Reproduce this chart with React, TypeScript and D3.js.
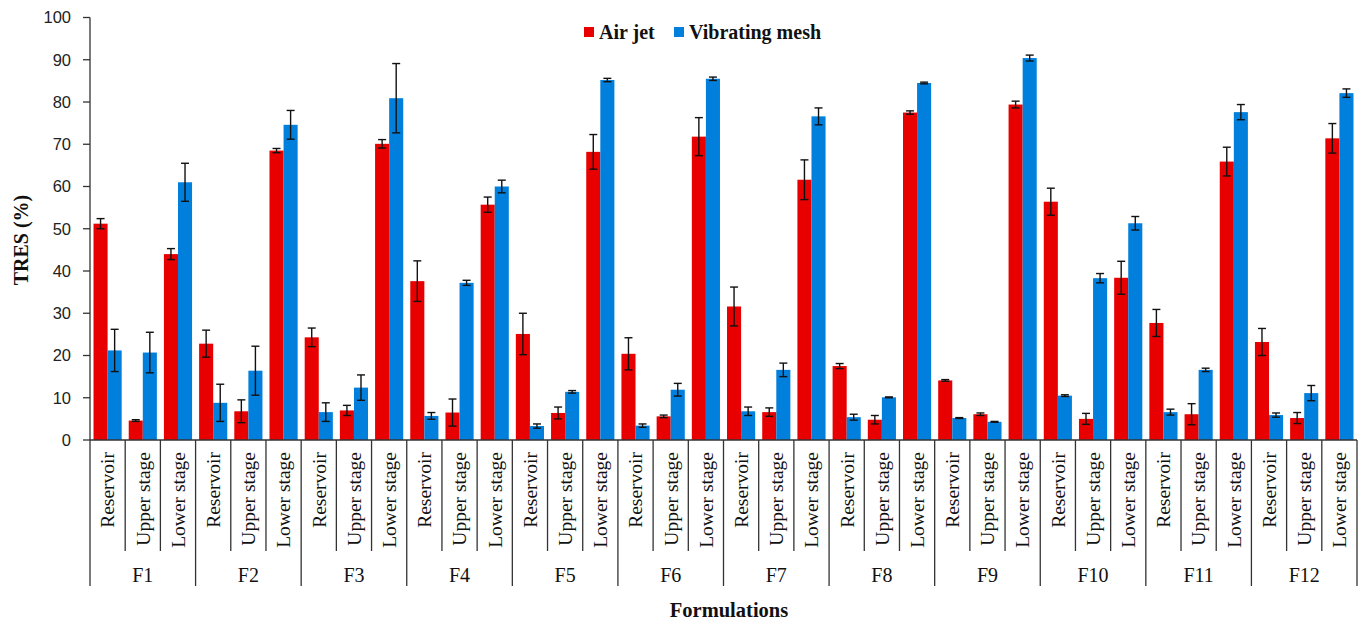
import React from 'react';
import * as d3 from 'd3';

// Formulations and stages (x-axis groups)
const formulations = ['F1', 'F2', 'F3', 'F4', 'F5', 'F6', 'F7', 'F8', 'F9', 'F10', 'F11', 'F12'];
const stages = ['Reservoir', 'Upper stage', 'Lower stage'];
const seriesNames = ['Air jet', 'Vibrating mesh'];
const yTicks = [0, 10, 20, 30, 40, 50, 60, 70, 80, 90, 100];

// TRES (%) values, ordered F1 Reservoir, F1 Upper, F1 Lower, F2 Reservoir ...
const airJet = [
  51.2, 4.6, 44.0, 22.8, 6.8, 68.5, 24.3, 7.0, 70.1, 37.6, 6.5, 55.7,
  25.1, 6.4, 68.2, 20.4, 5.6, 71.8, 31.6, 6.6, 61.6, 17.5, 4.8, 77.5,
  14.1, 6.1, 79.4, 56.4, 5.0, 38.4, 27.7, 6.1, 65.9, 23.2, 5.2, 71.4,
];
const airJetErr = [
  1.2, 0.2, 1.3, 3.2, 2.7, 0.5, 2.2, 1.2, 1.0, 4.8, 3.2, 1.8,
  4.9, 1.4, 4.1, 3.8, 0.3, 4.5, 4.6, 1.0, 4.7, 0.6, 1.0, 0.4,
  0.2, 0.3, 0.8, 3.2, 1.3, 3.9, 3.2, 2.5, 3.4, 3.2, 1.3, 3.5,
];
const mesh = [
  21.2, 20.7, 61.0, 8.8, 16.4, 74.6, 6.6, 12.4, 80.9, 5.7, 37.2, 60.0,
  3.3, 11.4, 85.2, 3.4, 11.9, 85.5, 6.8, 16.6, 76.6, 5.4, 10.1, 84.5,
  5.2, 4.3, 90.4, 10.5, 38.3, 51.3, 6.6, 16.6, 77.6, 5.9, 11.1, 82.1,
];
const meshErr = [
  5.0, 4.8, 4.5, 4.4, 5.8, 3.4, 2.2, 3.0, 8.2, 0.8, 0.6, 1.5,
  0.5, 0.3, 0.4, 0.4, 1.5, 0.4, 1.0, 1.6, 2.0, 0.7, 0.1, 0.2,
  0.1, 0.1, 0.7, 0.2, 1.1, 1.6, 0.7, 0.4, 1.8, 0.5, 1.8, 1.0,
];

const colors = ['#e80000', '#0080dc'];
const serif = '"Liberation Serif", "Times New Roman", serif';

export default function App() {
  const width = 1364;
  const height = 624;
  const left = 90;
  const right = 1357;
  const y0 = 440;
  const yTop = 17.5;

  const cats = formulations.flatMap((f) => stages.map((s) => `${f}|${s}`));

  const x = d3.scaleBand().domain(cats).range([left, right]).paddingInner(0.2).paddingOuter(0.1);
  const xSub = d3.scaleBand().domain(seriesNames).range([0, x.bandwidth()]);
  const y = d3.scaleLinear().domain([0, 100]).range([y0, yTop]);

  const step = x.step();
  const catStart = (i) => left + i * step;

  const series = [
    { name: seriesNames[0], values: airJet, errs: airJetErr },
    { name: seriesNames[1], values: mesh, errs: meshErr },
  ];

  return (
    <svg width={width} height={height} style={{ position: 'absolute', left: 0, top: 0, background: '#fff' }}>
      {/* bars */}
      {series.map((s, si) => (
        <g key={s.name}>
          {s.values.map((v, i) => (
            <rect
              key={i}
              x={x(cats[i]) + xSub(s.name)}
              y={y(v)}
              width={xSub.bandwidth()}
              height={y0 - y(v)}
              fill={colors[si]}
            />
          ))}
        </g>
      ))}

      {/* error bars */}
      {series.map((s) => (
        <g key={s.name + 'err'} stroke="#111" strokeWidth={1.4}>
          {s.values.map((v, i) => {
            const cx = x(cats[i]) + xSub(s.name) + xSub.bandwidth() / 2;
            const hi = y(v + s.errs[i]);
            const lo = y(v - s.errs[i]);
            return (
              <g key={i}>
                <line x1={cx} x2={cx} y1={hi} y2={lo} />
                <line x1={cx - 4} x2={cx + 4} y1={hi} y2={hi} />
                <line x1={cx - 4} x2={cx + 4} y1={lo} y2={lo} />
              </g>
            );
          })}
        </g>
      ))}

      {/* y axis */}
      <g stroke="#333" strokeWidth={1.3}>
        <line x1={left} x2={left} y1={y(100)} y2={y0} />
        {yTicks.map((t) => (
          <line key={t} x1={left - 7} x2={left} y1={y(t)} y2={y(t)} />
        ))}
      </g>
      {yTicks.map((t) => (
        <text
          key={t}
          x={left - 19}
          y={y(t)}
          dy="0.35em"
          textAnchor="end"
          fontFamily='"Liberation Sans", Arial, sans-serif'
          fontSize={16.5}
          fill="#222"
        >
          {t}
        </text>
      ))}
      <text
        transform={`translate(28, 240) rotate(-90)`}
        textAnchor="middle"
        fontFamily={serif}
        fontWeight="bold"
        fontSize={20}
        fill="#111"
      >
        TRES (%)
      </text>

      {/* x axis baseline and category dividers */}
      <g stroke="#333" strokeWidth={1.3}>
        <line x1={left} x2={right} y1={y0} y2={y0} />
        {d3.range(cats.length + 1).map((i) => (
          <line
            key={i}
            x1={catStart(i)}
            x2={catStart(i)}
            y1={y0}
            y2={i % 3 === 0 ? 586 : 551}
          />
        ))}
      </g>

      {/* category labels */}
      {cats.map((c) => (
        <text
          key={c}
          transform={`translate(${x(c) + x.bandwidth() / 2}, 452) rotate(-90)`}
          dy="0.35em"
          textAnchor="end"
          fontFamily={serif}
          fontSize={19.5}
          fill="#111"
        >
          {c.split('|')[1]}
        </text>
      ))}

      {/* formulation labels */}
      {formulations.map((f, i) => (
        <text
          key={f}
          x={catStart(i * 3) + step * 1.5}
          y={582}
          textAnchor="middle"
          fontFamily={serif}
          fontSize={20}
          fill="#111"
        >
          {f}
        </text>
      ))}

      <text x={729} y={617} textAnchor="middle" fontFamily={serif} fontWeight="bold" fontSize={20.5} fill="#111">
        Formulations
      </text>

      {/* legend */}
      {seriesNames.map((n, i) => {
        const lx = i === 0 ? 584 : 674;
        return (
          <g key={n}>
            <rect x={lx} y={27} width={10} height={10} fill={colors[i]} />
            <text x={lx + 15} y={39} fontFamily={serif} fontWeight="bold" fontSize={20} fill="#111">
              {n}
            </text>
          </g>
        );
      })}
    </svg>
  );
}
